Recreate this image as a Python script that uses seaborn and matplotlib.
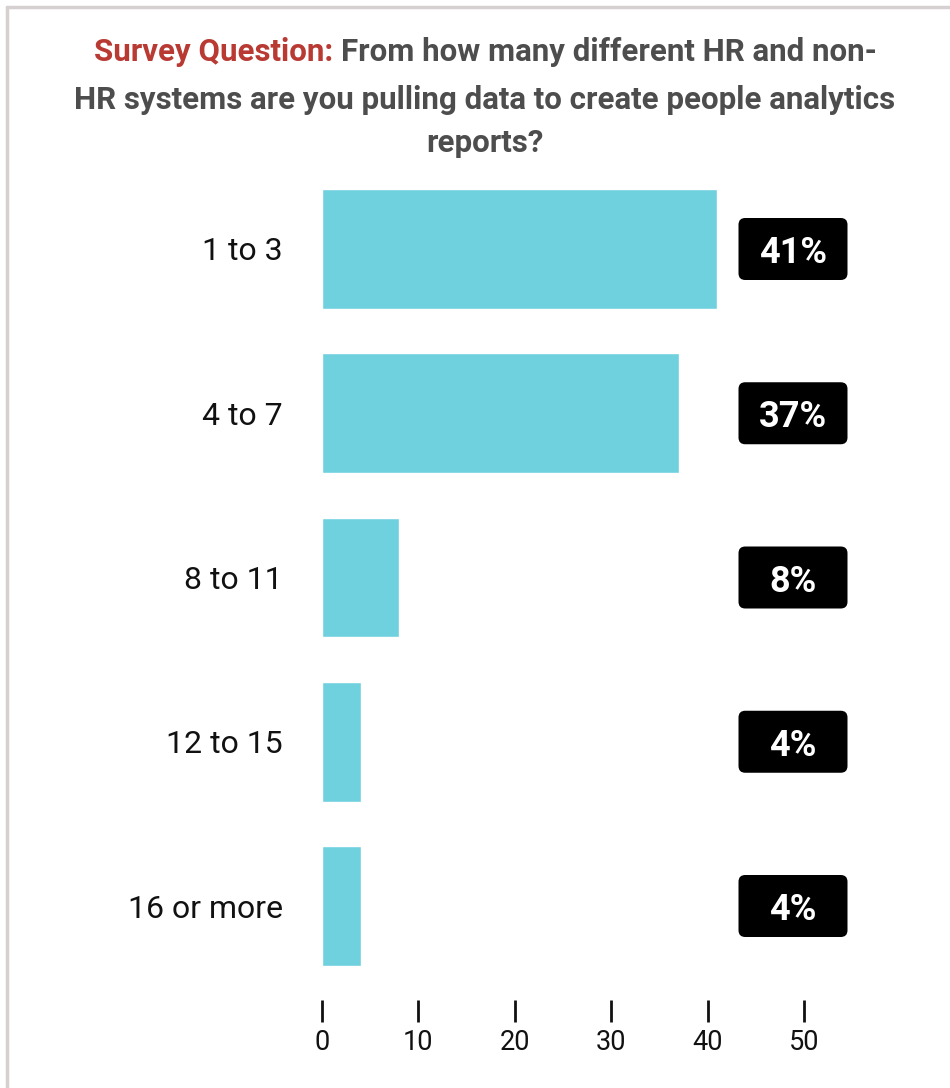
import matplotlib
matplotlib.use("Agg")
import matplotlib.pyplot as plt
from matplotlib.patches import FancyBboxPatch
from matplotlib.lines import Line2D
import seaborn as sns
import pandas as pd

categories = ["1 to 3", "4 to 7", "8 to 11", "12 to 15", "16 or more"]
values = [41, 37, 8, 4, 4]
labels = ["41%", "37%", "8%", "4%", "4%"]
xticks = [0, 10, 20, 30, 40, 50]

sns.set_style("white")
plt.rcParams["font.family"] = ["Roboto", "DejaVu Sans"]

W, H = 950, 1088
fig = plt.figure(figsize=(W / 100, H / 100), dpi=100)

# axes placement in pixels
left_px, right_px = 322, 880
top_px, bottom_px = 185, 1000
ax = fig.add_axes([left_px / W, 1 - bottom_px / H, (right_px - left_px) / W, (bottom_px - top_px) / H])

df = pd.DataFrame({"cat": categories, "val": values})
sns.barplot(data=df, x="val", y="cat", orient="h", color="#6fd0de", width=0.73,
            saturation=1, ax=ax)

px_per_x = 9.64
xmax = (right_px - left_px) / px_per_x
ax.set_xlim(0, xmax)
step = 164.25
ax.set_ylim(4 + (bottom_px - 906) / step, -(249 - top_px) / step)

for s in ax.spines.values():
    s.set_visible(False)
ax.set_xlabel("")
ax.set_ylabel("")
ax.set_xticks(xticks)
ax.set_xticklabels([str(t) for t in xticks], fontsize=19.5, color="#111111")
ax.tick_params(axis="x", length=16, width=2, color="#111111", pad=5, direction="out", bottom=True)
ax.tick_params(axis="y", length=0, pad=28)
for t in ax.get_yticklabels():
    t.set_fontsize(23)
    t.set_color("#111111")

# value boxes
box_cx = (793 - left_px) / px_per_x
box_w = 109 / px_per_x
box_h = 62 / step
aspect = (1 / step) / (1 / px_per_x)
for i, lab in enumerate(labels):
    p = FancyBboxPatch((box_cx - box_w / 2, i - box_h / 2), box_w, box_h,
                       boxstyle="round,pad=0,rounding_size=0.7", mutation_aspect=aspect,
                       facecolor="black", edgecolor="none", clip_on=False)
    ax.add_patch(p)
    ax.text(box_cx, i, lab, ha="center", va="center_baseline", color="white",
            fontsize=26, fontweight="bold")

# border lines
fig.add_artist(Line2D([7 / W, 7 / W], [0, 1 - 7 / H], color="#d6d0d0", lw=2.5))
fig.add_artist(Line2D([7 / W, 1], [1 - 7 / H, 1 - 7 / H], color="#d6d0d0", lw=2.5))

# title
red = "#b83a33"
gray = "#4d4d4d"
tfs = 22.5
cx = 485 / W
fig.canvas.draw()
r = fig.canvas.get_renderer()
t1 = fig.text(0, 1 - 52 / H, "Survey Question: ", color=red, fontsize=tfs, fontweight="bold", va="center", ha="left")
t2 = fig.text(0, 1 - 52 / H, "From how many different HR and non-", color=gray, fontsize=tfs, fontweight="bold", va="center", ha="left")
w1 = t1.get_window_extent(r).width
w2 = t2.get_window_extent(r).width
start = cx * W - (w1 + w2) / 2
t1.set_x(start / W)
t2.set_x((start + w1) / W)
fig.text(cx, 1 - 100 / H, "HR systems are you pulling data to create people analytics", color=gray,
         fontsize=tfs, fontweight="bold", va="center", ha="center")
fig.text(cx, 1 - 143 / H, "reports?", color=gray, fontsize=tfs, fontweight="bold", va="center", ha="center")

fig.savefig("out.png", dpi=100, facecolor="white")
